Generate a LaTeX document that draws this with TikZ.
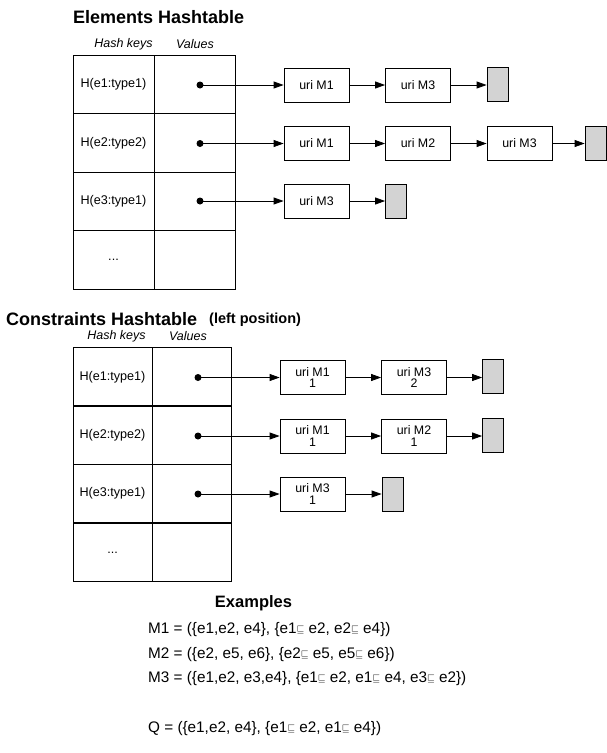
\documentclass[tikz,border=0pt]{standalone}
\usepackage{fontspec}
\setmainfont{Liberation Sans}
\usetikzlibrary{arrows.meta}
\newcommand{\fs}[1]{\fontsize{#1}{#1}\selectfont}
\newcommand{\sqle}{\raisebox{1.6pt}{\fs{10}$\sqsubseteq$}}
\definecolor{grayfill}{HTML}{D3D3D3}
\tikzset{
  cell/.style={draw, line width=0.9pt, minimum width=81pt, minimum height=58.5pt, inner sep=0pt, font=\fs{12.6}},
  ccell/.style={cell, minimum width=79pt},
  ubox/.style={draw, line width=0.8pt, minimum width=65pt, minimum height=34pt, inner sep=0pt, font=\fs{12.4}, align=center},
  gbox/.style={draw, line width=0.8pt, fill=grayfill, minimum width=21pt, minimum height=34pt, inner sep=0pt},
  arr/.style={line width=0.8pt, -{Triangle[length=10pt,width=7pt]}},
  dotmark/.style={fill=black, circle, inner sep=0pt, minimum size=7pt},
  ttl/.style={font=\fs{18}\bfseries, inner sep=0pt},
  hk/.style={font=\fs{12.5}\itshape, inner sep=0pt},
  ex/.style={font=\fs{15.3}, inner sep=0pt, anchor=west}
}
\begin{document}
\begin{tikzpicture}[x=1pt, y=-1pt]
\useasboundingbox (0,0) rectangle (606,753);
% ---------- Elements Hashtable ----------
\node[ttl, anchor=west] (t1) at (73,17) {Elements Hashtable};
\node[hk] (hk1) at (123.5,44) {Hash keys};
\node[hk] (hv1) at (195,44) {Values};
\node[cell] (k1) at (113.5,84.25) {H(e1:type1)};
\node[cell] (k2) at (113.5,142.75) {H(e2:type2)};
\node[cell] (k3) at (113.5,201.25) {H(e3:type1)};
\node[cell] (k4) at (113.5,259.75) {...};
\node[cell] (v1) at (194.5,84.25) {};
\node[cell] (v2) at (194.5,142.75) {};
\node[cell] (v3) at (194.5,201.25) {};
\node[cell] (v4) at (194.5,259.75) {};
\node[dotmark] (d1) at (200,85) {};
\node[dotmark] (d2) at (200,143.5) {};
\node[dotmark] (d3) at (200,201) {};
% row 1
\node[ubox] (a1) at (316.5,85) {uri M1};
\node[ubox] (b1) at (418,85) {uri M3};
\node[gbox] (g1) at (497.5,84) {};
% row 2
\node[ubox] (a2) at (316.5,143.5) {uri M1};
\node[ubox] (b2) at (418,143.5) {uri M2};
\node[ubox] (c2) at (519.5,143.5) {uri M3};
\node[gbox] (g2) at (595.5,143.5) {};
% row 3
\node[ubox] (a3) at (316.5,201) {uri M3};
\node[gbox] (g3) at (396,201) {};
\draw[arr] (d1.center) -- (a1.west);
\draw[arr] (a1) -- (b1);
\draw[arr] (b1) -- (b1 -| g1.west);
\draw[arr] (d2.center) -- (a2.west);
\draw[arr] (a2) -- (b2);
\draw[arr] (b2) -- (c2);
\draw[arr] (c2) -- (g2);
\draw[arr] (d3.center) -- (a3.west);
\draw[arr] (a3) -- (g3);
% ---------- Constraints Hashtable ----------
\node[ttl, anchor=west] (t2) at (6,319) {Constraints Hashtable};
\node[font=\fs{14.5}\bfseries, inner sep=0pt, anchor=west] (t2b) at (209,320) {(left position)};
\node[hk] (hk2) at (116.5,336) {Hash keys};
\node[hk] (hv2) at (188,336) {Values};
\node[ccell] (ck1) at (112.5,377) {H(e1:type1)};
\node[ccell] (ck2) at (112.5,435) {H(e2:type2)};
\node[ccell] (ck3) at (112.5,493.5) {H(e3:type1)};
\node[ccell] (ck4) at (112.5,552.5) {...};
\node[ccell] (cv1) at (191.5,377) {};
\node[ccell] (cv2) at (191.5,435) {};
\node[ccell] (cv3) at (191.5,493.5) {};
\node[ccell] (cv4) at (191.5,552.5) {};
\node[dotmark] (e1) at (198,377.5) {};
\node[dotmark] (e2) at (198,436) {};
\node[dotmark] (e3) at (198,494) {};
\node[ubox] (p1) at (312.5,377.5) {uri M1\\[-1pt]1};
\node[ubox] (q1) at (414,377.5) {uri M3\\[-1pt]2};
\node[gbox] (h1) at (493,376) {};
\node[ubox] (p2) at (312.5,436) {uri M1\\[-1pt]1};
\node[ubox] (q2) at (414,436) {uri M2\\[-1pt]1};
\node[gbox] (h2) at (493,435.5) {};
\node[ubox] (p3) at (312.5,494) {uri M3\\[-1pt]1};
\node[gbox] (h3) at (392.5,494) {};
\draw[arr] (e1.center) -- (p1.west);
\draw[arr] (p1) -- (q1);
\draw[arr] (q1) -- (q1 -| h1.west);
\draw[arr] (e2.center) -- (p2.west);
\draw[arr] (p2) -- (q2);
\draw[arr] (q2) -- (q2 -| h2.west);
\draw[arr] (e3.center) -- (p3.west);
\draw[arr] (p3) -- (h3);
% ---------- Examples ----------
\node[font=\fs{16.5}\bfseries, inner sep=0pt] (exh) at (253.5,603) {Examples};
\node[ex] (m1) at (148,630) {M1 = (\{e1,e2, e4\}, \{e1\sqle{} e2, e2\sqle{} e4\})};
\node[ex] (m2) at (148,655) {M2 = (\{e2, e5, e6\}, \{e2\sqle{} e5, e5\sqle{} e6\})};
\node[ex] (m3) at (148,679) {M3 = (\{e1,e2, e3,e4\}, \{e1\sqle{} e2, e1\sqle{} e4, e3\sqle{} e2\})};
\node[ex] (qq) at (148,729) {Q = (\{e1,e2, e4\}, \{e1\sqle{} e2, e1\sqle{} e4\})};
\end{tikzpicture}
\end{document}
